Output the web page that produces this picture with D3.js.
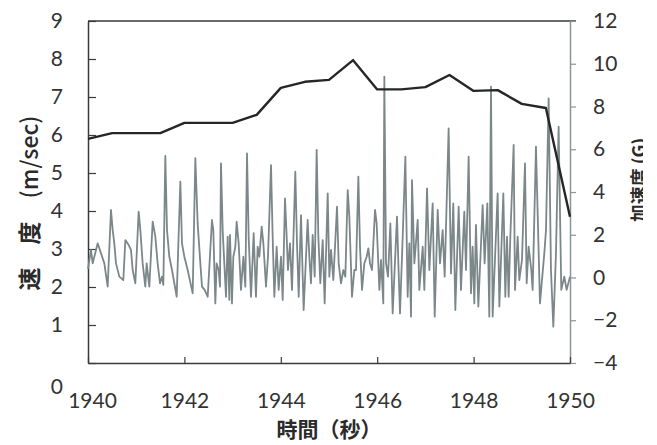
<!DOCTYPE html>
<html>
<head>
<meta charset="utf-8">
<script src="https://cdn.jsdelivr.net/npm/d3@7"></script>
<style>
  body { margin: 0; background: #fff; }
  svg { display: block; }
</style>
</head>
<body>
<svg id="chart" width="657" height="445"></svg>
<script>

// speed (left axis, m/sec)
var speedTime = [1940, 1940.5, 1941, 1941.5, 1942, 1942.5, 1943, 1943.5, 1944, 1944.5,
                 1945, 1945.5, 1946, 1946.5, 1947, 1947.5, 1948, 1948.5, 1949, 1949.5, 1950];
var speedValue = [5.9, 6.05, 6.05, 6.05, 6.32, 6.32, 6.32, 6.53, 7.24, 7.4,
                  7.45, 7.97, 7.2, 7.2, 7.26, 7.58, 7.16, 7.18, 6.82, 6.71, 3.85];

// acceleration (right axis, G)
var accelTime = [
  1940.0, 1940.062, 1940.097, 1940.201, 1940.27, 1940.339, 1940.408, 1940.477, 1940.512, 1940.546,
  1940.581, 1940.65, 1940.733, 1940.775, 1940.844, 1940.892, 1940.927, 1940.982, 1941.051, 1941.086,
  1941.134, 1941.189, 1941.217, 1941.272, 1941.342, 1941.397, 1941.445, 1941.494, 1941.535, 1941.563,
  1941.604, 1941.639, 1941.687, 1941.743, 1941.84, 1941.916, 1941.95, 1941.999, 1942.068, 1942.172,
  1942.227, 1942.275, 1942.331, 1942.365, 1942.42,
  1942.483, 1942.572, 1942.6, 1942.642, 1942.669, 1942.711, 1942.738, 1942.759, 1942.794, 1942.828,
  1942.863, 1942.898, 1942.932, 1942.946, 1942.987, 1943.015, 1943.057, 1943.084, 1943.126, 1943.174,
  1943.223, 1943.264, 1943.299, 1943.333, 1943.382, 1943.437, 1943.485, 1943.52, 1943.555, 1943.603,
  1943.638, 1943.693, 1943.734, 1943.797, 1943.831, 1943.866, 1943.914, 1943.956, 1944.004, 1944.039,
  1944.087, 1944.122, 1944.149, 1944.191, 1944.232, 1944.301, 1944.336, 1944.371, 1944.419, 1944.474,
  1944.557, 1944.592, 1944.626, 1944.661, 1944.703, 1944.744, 1944.779, 1944.82, 1944.869, 1944.91,
  1944.973, 1945.007, 1945.042, 1945.09, 1945.166, 1945.201, 1945.249, 1945.298, 1945.339, 1945.388,
  1945.422, 1945.477, 1945.526, 1945.56, 1945.609, 1945.643, 1945.685, 1945.733, 1945.782, 1945.816,
  1945.851, 1945.892, 1945.955, 1945.989, 1946.045, 1946.079, 1946.127, 1946.148, 1946.183, 1946.224,
  1946.273, 1946.321, 1946.411, 1946.439, 1946.473, 1946.529, 1946.584, 1946.632, 1946.667, 1946.702,
  1946.722, 1946.771, 1946.84, 1946.874, 1946.944, 1946.978, 1947.034, 1947.082, 1947.151, 1947.193,
  1947.255, 1947.303, 1947.358, 1947.4,
  1947.482, 1947.531, 1947.579, 1947.621, 1947.69, 1947.738, 1947.807, 1947.842, 1947.897, 1947.946,
  1947.98, 1948.015, 1948.049, 1948.098, 1948.188, 1948.229, 1948.285, 1948.326, 1948.361, 1948.395,
  1948.499, 1948.534, 1948.617, 1948.658, 1948.693, 1948.727, 1948.762, 1948.831, 1948.859, 1948.914,
  1948.948, 1949.004, 1949.066, 1949.101, 1949.142, 1949.197, 1949.225, 1949.294, 1949.377, 1949.467,
  1949.502, 1949.557, 1949.605, 1949.654, 1949.709, 1949.764, 1949.819, 1949.882, 1949.93, 1950.0
];
var accelValue = [
  0.4, 1.29, 0.66, 1.6, 1.13, 0.66, -0.43, 3.16, 2.22, 1.6,
  0.66, 0.04, -0.12, 1.75, 1.52, 1.29, 0.35, -0.27, 3.08, 2.22,
  0.66, -0.43, 0.66, -0.43, 2.61, 1.91, 0.66, -0.27, 0.04, -0.35,
  5.69, 2.22, 0.97, 0.35, -0.9, 4.48, 1.6, 0.97, 0.35, -0.74,
  5.58, 2.53, 0.66, -0.43, -0.58,
  -0.9, 2.69, 2.22, -1.21, 0.66, 0.35, -0.43, 5.34, 2.22, 0.66,
  -0.9, 1.91, -1.05, 1.99, -1.21, 0.97, 1.44, 2.61, 1.6, -0.58,
  0.97, -0.43, 5.81, 1.91, -0.9, 2.07, -0.9, 1.44, 0.97, 2.38,
  1.6, -0.43, 0.97, 5.26, 1.91, -0.9, 1.44, -0.58, 0.97, -1.05,
  3.7, 1.91, 0.35, 1.6, -0.58, 4.95, 1.6, -0.9, 2.92, -1.52,
  2.69, 0.97, -0.27, 1.99, 0.04, 5.97, 1.91, -0.27, 1.75, -1.21,
  3.94, 0.04, 1.29, -0.12, 3.31, 0.66, -0.27, 0.35, 0.04, 4.09,
  2.85, -0.9, 0.35, 0.35, 4.72, 1.44, -0.58, 0.66, 0.97, 1.36,
  0.66, 0.35, 3.16, 2.53, -0.58, 0.82, -1.21, 9.4, 0.66, 0.04,
  2.53, -1.68, 2.85, 0.66, -1.68, 1.91, 5.65, -0.9, 1.6, -1.83,
  4.56, 0.66, 2.69, -0.58, 1.44, -0.58, 4.17, 0.35, 3.47, -1.83,
  3.16, 0.66, 2.22, 0.04,
  6.98, 0.19, 3.47, -1.52, 3.31, -0.58, 3.08, 0.35, 5.65, -0.74,
  1.44, -1.21, 2.46, -1.36, 3.39, 0.66, 3.47, -1.83, 8.93, -1.83,
  3.94, -1.36, 3.94, -0.9, 1.91, -0.9, 1.91, 6.2, -0.58, 1.91,
  -0.12, 0.82, 5.34, -0.27, 1.44, 0.35, -0.58, 6.12, -1.21, 1.13,
  2.22, 8.38, 0.35, -2.3, 1.13, 7.06, -0.58, 0.04, -0.58, 0.04
];

var leftTicks = [0, 1, 2, 3, 4, 5, 6, 7, 8, 9];
var rightTicks = [-4, -2, 0, 2, 4, 6, 8, 10, 12];
var xTicks = [1940, 1942, 1944, 1946, 1948, 1950];

var svg = d3.select("#chart");
var pl = 88, pr = 570, pt = 21, pb = 363;

var x = d3.scaleLinear().domain([1940, 1950]).range([pl, pr]);
var yL = d3.scaleLinear().domain([0, 9]).range([pb, pt]);
var yR = d3.scaleLinear().domain([-4, 12]).range([pb, pt]);

svg.append("rect").attr("width", 657).attr("height", 445).attr("fill", "#fff");

// frame top
svg.append("line")
    .attr("x1", pl).attr("x2", pr + 6)
    .attr("y1", pt).attr("y2", pt)
    .attr("stroke", "#3a3a3a").attr("stroke-width", 1.5);

var tickFont = "Lato, 'Open Sans', sans-serif";

var gLeft = svg.append("g")
    .attr("transform", "translate(" + pl + ",0)")
    .call(d3.axisLeft(yL).tickValues(leftTicks).tickSizeInner(-8).tickSizeOuter(0).tickPadding(25));

var gRight = svg.append("g")
    .attr("transform", "translate(" + pr + ",0)")
    .call(d3.axisRight(yR).tickValues(rightTicks).tickSizeInner(6).tickSizeOuter(0).tickPadding(17));

var gBottom = svg.append("g")
    .attr("transform", "translate(0," + pb + ")")
    .call(d3.axisBottom(x).tickValues(xTicks).tickFormat(d3.format("d")).tickSizeInner(-6).tickSizeOuter(0).tickPadding(30));

[gLeft, gBottom].forEach(function(g) {
  g.select(".domain").attr("stroke", "#3a3a3a").attr("stroke-width", 1.5);
  g.selectAll(".tick line").attr("stroke", "#3a3a3a").attr("stroke-width", 1.2);
});
gRight.select(".domain").attr("stroke", "#8a9598").attr("stroke-width", 1.5);
gRight.selectAll(".tick line").attr("stroke", "#8a9598").attr("stroke-width", 1.2);

[gLeft, gRight, gBottom].forEach(function(g) {
  g.selectAll("text")
      .attr("font-family", tickFont)
      .attr("font-size", 21)
      .attr("fill", "#333");
});
// the zero of the speed axis sits low, next to 1940
gLeft.selectAll(".tick").filter(function(d) { return d === 0; })
    .select("text").attr("dy", "1.45em");
gBottom.selectAll(".tick").filter(function(d) { return d === 1940; })
    .select("text").attr("x", 4);

// acceleration trace
var accel = accelTime.map(function(t, i) { return [t, accelValue[i]]; });
svg.append("path")
    .datum(accel)
    .attr("fill", "none")
    .attr("stroke", "#7b8789")
    .attr("stroke-width", 1.8)
    .attr("stroke-linejoin", "round")
    .attr("d", d3.line()
        .x(function(d) { return x(d[0]); })
        .y(function(d) { return yR(d[1]); }));

// speed line
var speed = speedTime.map(function(t, i) { return [t, speedValue[i]]; });
svg.append("path")
    .datum(speed)
    .attr("fill", "none")
    .attr("stroke", "#262626")
    .attr("stroke-width", 2.4)
    .attr("stroke-linejoin", "round")
    .attr("d", d3.line()
        .x(function(d) { return x(d[0]); })
        .y(function(d) { return yL(d[1]); }));

var titleFont = "'Noto Sans CJK JP', 'Noto Sans', sans-serif";

var yTitle = svg.append("text")
    .attr("transform", "translate(38,203) rotate(-90)")
    .attr("text-anchor", "middle")
    .attr("font-family", titleFont)
    .attr("font-size", 23)
    .attr("fill", "#2a2a2a");
yTitle.append("tspan").attr("font-weight", "bold").text("速　度　");
yTitle.append("tspan").attr("font-weight", "500").text("(m/sec)");

svg.append("text")
    .attr("x", (pl + pr) / 2)
    .attr("y", 437)
    .attr("text-anchor", "middle")
    .attr("font-family", titleFont)
    .attr("font-weight", "bold")
    .attr("font-size", 21)
    .attr("fill", "#2a2a2a")
    .text("時間（秒）");

// right title is cut off at the edge in the original
svg.append("clipPath").attr("id", "rclip")
  .append("rect").attr("x", 600).attr("y", 0).attr("width", 43).attr("height", 445);

svg.append("g")
    .attr("clip-path", "url(#rclip)")
  .append("text")
    .attr("transform", "translate(646,180) rotate(-90)")
    .attr("text-anchor", "middle")
    .attr("font-family", titleFont)
    .attr("font-weight", "bold")
    .attr("font-size", 18)
    .attr("fill", "#2a2a2a")
    .text("加速度 (G)");

</script>
</body>
</html>
